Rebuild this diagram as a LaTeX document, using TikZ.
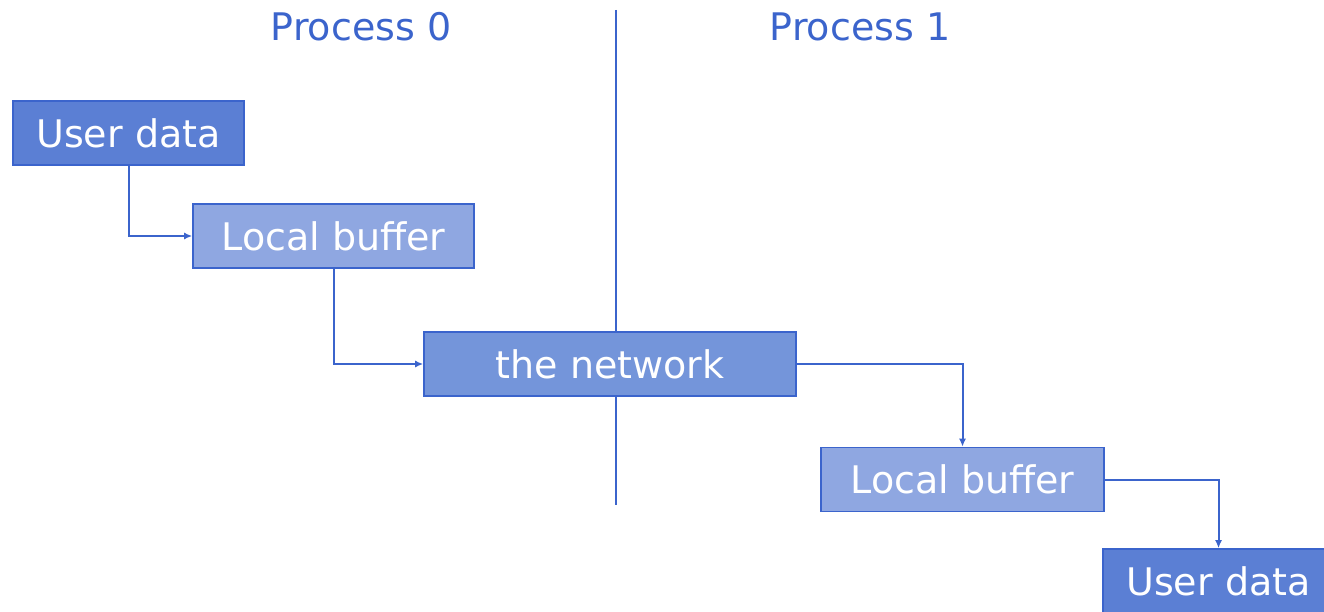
\documentclass[tikz,border=0pt]{standalone}
\usepackage{fontspec}
\setmainfont{DejaVu Sans}
\usetikzlibrary{arrows.meta}
\definecolor{edgeblue}{RGB}{59,100,204}
\definecolor{darkfill}{RGB}{91,127,212}
\definecolor{midfill}{RGB}{116,149,218}
\definecolor{lightfill}{RGB}{143,167,225}
\tikzset{
  box/.style={draw=edgeblue, line width=1.6pt, text=white, font=\fontsize{38}{42}\selectfont,
    inner sep=0pt, minimum height=64pt},
  link/.style={draw=edgeblue, line width=2pt, -{Latex[length=8pt,width=7pt]}},
  heading/.style={text=edgeblue, font=\fontsize{38}{42}\selectfont},
}
\begin{document}
\begin{tikzpicture}[x=1pt,y=-1pt]
  \useasboundingbox (0,0) rectangle (1324,612);
  \clip (0,0) rectangle (1324,612);

  % process divider
  \coordinate (divtop) at (616,10);
  \coordinate (divbot) at (616,505);
  \draw[edgeblue, line width=1.8pt] (divtop) -- (divbot);

  % headings
  \node[heading] (p0) at (361,27) {Process 0};
  \node[heading] (p1) at (860,27) {Process 1};

  % boxes
  \node[box, fill=darkfill, minimum width=231pt] (ud1) at (128.5,133) {User data};
  \node[box, fill=lightfill, minimum width=281pt] (lb1) at (333.5,236) {Local buffer};
  \node[box, fill=midfill, minimum width=372pt] (net) at (610,364) {the network};
  \node[box, fill=lightfill, minimum width=283pt] (lb2) at (962.5,479.5) {Local buffer};
  \node[box, fill=darkfill, minimum width=231pt] (ud2) at (1218.5,581) {User data};

  % connectors
  \draw[link] (ud1.south) |- (lb1.west);
  \draw[link] (lb1.south) |- (net.west);
  \draw[link] (net.east) -| (lb2.north);
  \draw[link] (lb2.east) -| (ud2.north);
\end{tikzpicture}
\end{document}
